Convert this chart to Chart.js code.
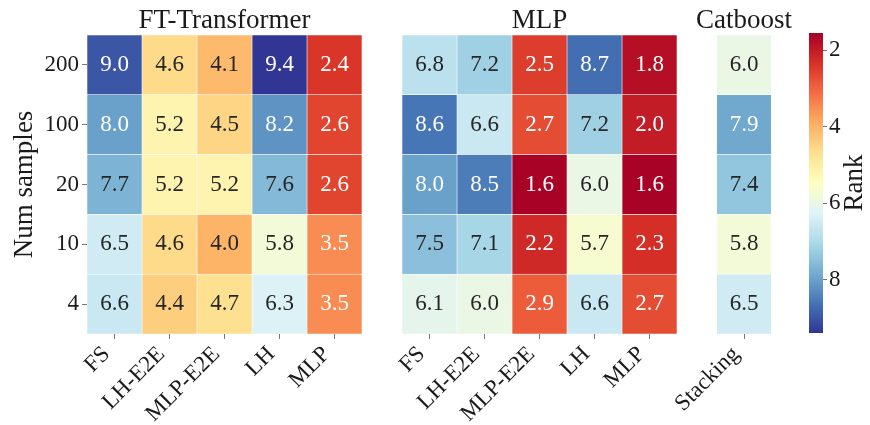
<!DOCTYPE html>
<html>
<head>
<meta charset="utf-8">
<script src="https://cdn.jsdelivr.net/npm/chart.js@4/dist/chart.umd.min.js"></script>
<style>
  html, body { margin: 0; padding: 0; background: #ffffff; }
  #figure { position: relative; width: 870px; height: 425px; overflow: hidden; }
  .panel { position: absolute; top: 0; height: 425px; }
  .panel canvas { display: block; }
</style>
</head>
<body>
<div id="figure">
  <div class="panel" style="left:0px;width:372px"><canvas id="ftPanel" width="372" height="425"></canvas></div>
  <div class="panel" style="left:302px;width:385px"><canvas id="mlpPanel" width="385" height="425"></canvas></div>
  <div class="panel" style="left:562px;width:274px"><canvas id="catPanel" width="274" height="425"></canvas></div>
  <div class="panel" style="left:780px;width:90px"><canvas id="colourbar" width="90" height="425"></canvas></div>
</div>
<script>
// ---- data -------------------------------------------------------------
const rowLabels = ['200', '100', '20', '10', '4'];

const ftColumns = ['FS', 'LH-E2E', 'MLP-E2E', 'LH', 'MLP'];
const ftRanks = [
  [9.0, 4.6, 4.1, 9.4, 2.4],
  [8.0, 5.2, 4.5, 8.2, 2.6],
  [7.7, 5.2, 5.2, 7.6, 2.6],
  [6.5, 4.6, 4.0, 5.8, 3.5],
  [6.6, 4.4, 4.7, 6.3, 3.5]
];

const mlpColumns = ['FS', 'LH-E2E', 'MLP-E2E', 'LH', 'MLP'];
const mlpRanks = [
  [6.8, 7.2, 2.5, 8.7, 1.8],
  [8.6, 6.6, 2.7, 7.2, 2.0],
  [8.0, 8.5, 1.6, 6.0, 1.6],
  [7.5, 7.1, 2.2, 5.7, 2.3],
  [6.1, 6.0, 2.9, 6.6, 2.7]
];

const catColumns = ['Stacking'];
const catRanks = [[6.0], [7.9], [7.4], [5.8], [6.5]];

const colourRange = [1.55, 9.4];
const colourbarTicks = [2, 4, 6, 8];

// ---- styling ----------------------------------------------------------
const SERIF = '"Liberation Serif", "Times New Roman", serif';
const INK = '#1a1a1a';
const TICK_COLOUR = '#777777';
const RDYLBU = ['#a50026', '#d73027', '#f46d43', '#fdae61', '#fee090', '#ffffbf',
                '#e0f3f8', '#abd9e9', '#74add1', '#4575b4', '#313695'];

function hexToRgb(h) {
  const n = parseInt(h.slice(1), 16);
  return [(n >> 16) & 255, (n >> 8) & 255, n & 255];
}

function rankRgb(v) {
  let t = (v - colourRange[0]) / (colourRange[1] - colourRange[0]);
  t = Math.min(1, Math.max(0, t));
  const p = t * 10;
  const i = Math.min(9, Math.floor(p));
  const f = p - i;
  const a = hexToRgb(RDYLBU[i]), b = hexToRgb(RDYLBU[i + 1]);
  return a.map((c, k) => c + (b[k] - c) * f);
}

function rankColour(v) {
  const [r, g, b] = rankRgb(v);
  return `rgb(${Math.round(r)},${Math.round(g)},${Math.round(b)})`;
}

// dark text on light cells, white text on saturated ones
function labelColour(v) {
  const lin = rankRgb(v).map(c => {
    c /= 255;
    return c <= 0.03928 ? c / 12.92 : Math.pow((c + 0.055) / 1.055, 2.4);
  });
  const lum = 0.2126 * lin[0] + 0.7152 * lin[1] + 0.0722 * lin[2];
  return lum > 0.408 ? '#262626' : '#ffffff';
}

// writes each cell's rank in its centre
const cellLabels = {
  id: 'cellLabels',
  afterDatasetsDraw(chart) {
    const ctx = chart.ctx;
    ctx.save();
    ctx.font = `23px ${SERIF}`;
    ctx.textAlign = 'center';
    ctx.textBaseline = 'middle';
    chart.data.datasets.forEach((ds, d) => {
      chart.getDatasetMeta(d).data.forEach((bar, r) => {
        const v = ds.ranks[r];
        const p = bar.getCenterPoint();
        ctx.fillStyle = labelColour(v);
        ctx.fillText(v.toFixed(1), p.x, p.y);
      });
    });
    ctx.restore();
  }
};

// margin: empty space (in cell widths) kept either side of the columns,
// so a narrow panel still has room for its title
function heatmap(canvasId, title, columns, ranks, showRows, margin) {
  const datasets = columns.map((name, c) => ({
    label: name,
    data: rowLabels.map(() => [c, c + 1]),
    ranks: ranks.map(row => row[c]),
    backgroundColor: ranks.map(row => rankColour(row[c])),
    borderColor: 'rgba(255,255,255,0.9)',
    borderWidth: 0.6,
    borderSkipped: false,
    grouped: false,
    barPercentage: 1,
    categoryPercentage: 1
  }));

  return new Chart(document.getElementById(canvasId), {
    type: 'bar',
    data: { labels: rowLabels, datasets },
    options: {
      indexAxis: 'y',
      responsive: false,
      animation: false,
      events: [],
      layout: { padding: { left: showRows ? 0 : 100, right: 10, top: 0, bottom: 0 } },
      plugins: {
        legend: { display: false },
        tooltip: { enabled: false },
        title: {
          display: true,
          text: title,
          fullSize: false,
          color: INK,
          font: { family: SERIF, size: 27, weight: 'normal', lineHeight: 1 },
          padding: { top: 7, bottom: 1 }
        }
      },
      scales: {
        x: {
          type: 'linear',
          min: -margin,
          max: columns.length + margin,
          afterBuildTicks: axis => { axis.ticks = columns.map((_, i) => ({ value: i + 0.5 })); },
          afterFit: axis => { axis.height = 91; },
          ticks: {
            autoSkip: false,
            minRotation: 45,
            maxRotation: 45,
            padding: 2,
            labelOffset: -8,
            color: INK,
            font: { family: SERIF, size: 23 },
            callback: (value, index) => columns[index]
          },
          grid: { drawOnChartArea: false, drawTicks: true, tickLength: 5, tickColor: TICK_COLOUR },
          border: { display: false }
        },
        y: {
          type: 'category',
          display: showRows,
          offset: true,
          afterFit: axis => { axis.width = showRows ? 87 : 0; },
          ticks: { padding: 3, color: INK, font: { family: SERIF, size: 23 } },
          grid: { offset: false, drawOnChartArea: false, drawTicks: true, tickLength: 5, tickColor: TICK_COLOUR },
          border: { display: false },
          title: {
            display: true,
            text: 'Num samples',
            color: INK,
            font: { family: SERIF, size: 27 },
            padding: { top: 9, bottom: 0 }
          }
        }
      }
    },
    plugins: [cellLabels]
  });
}

heatmap('ftPanel', 'FT-Transformer', ftColumns, ftRanks, true, 0);
heatmap('mlpPanel', 'MLP', mlpColumns, mlpRanks, false, 0);
heatmap('catPanel', 'Catboost', catColumns, catRanks, false, 1);

// ---- colour bar -------------------------------------------------------
const rankTitle = {
  id: 'rankTitle',
  afterDraw(chart) {
    const { ctx, chartArea } = chart;
    ctx.save();
    ctx.translate(chartArea.right + 32, (chartArea.top + chartArea.bottom) / 2);
    ctx.rotate(-Math.PI / 2);
    ctx.font = `27px ${SERIF}`;
    ctx.fillStyle = INK;
    ctx.textAlign = 'center';
    ctx.textBaseline = 'middle';
    ctx.fillText('Rank', 0, 0);
    ctx.restore();
  }
};

new Chart(document.getElementById('colourbar'), {
  type: 'bar',
  data: {
    labels: ['Rank'],
    datasets: [{
      data: [colourRange],
      backgroundColor: c => {
        const { chartArea, ctx } = c.chart;
        if (!chartArea) return RDYLBU[5];
        const g = ctx.createLinearGradient(0, chartArea.top, 0, chartArea.bottom);
        RDYLBU.forEach((col, i) => g.addColorStop(i / (RDYLBU.length - 1), col));
        return g;
      },
      borderWidth: 0,
      barPercentage: 1,
      categoryPercentage: 1
    }]
  },
  options: {
    responsive: false,
    animation: false,
    events: [],
    layout: { padding: { left: 29, right: 0, top: 33, bottom: 92 } },
    plugins: { legend: { display: false }, tooltip: { enabled: false } },
    scales: {
      x: { display: false },
      y: {
        position: 'right',
        reverse: true,
        min: colourRange[0],
        max: colourRange[1],
        afterBuildTicks: axis => { axis.ticks = colourbarTicks.map(v => ({ value: v })); },
        afterFit: axis => { axis.width = 47; },
        ticks: { padding: 2, color: INK, font: { family: SERIF, size: 23 }, callback: v => String(v) },
        grid: { drawOnChartArea: false, drawTicks: true, tickLength: 4, tickColor: TICK_COLOUR },
        border: { display: false }
      }
    }
  },
  plugins: [rankTitle]
});
</script>
</body>
</html>
